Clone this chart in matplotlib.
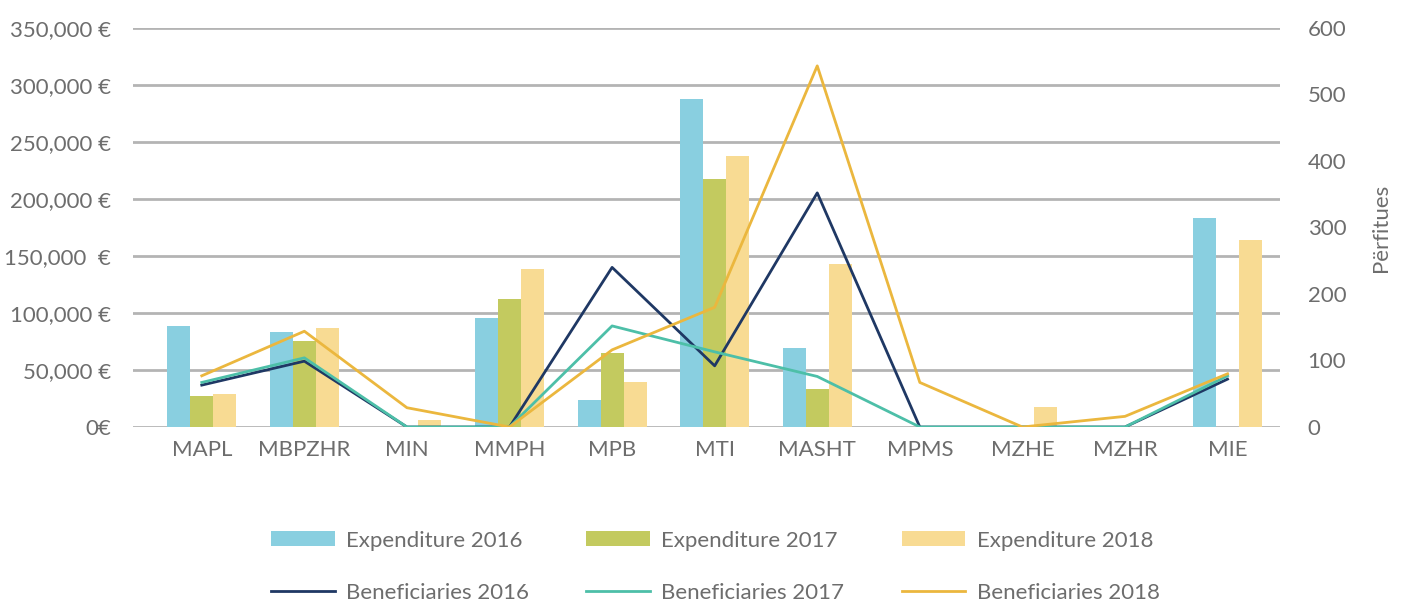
import numpy as np
import matplotlib.pyplot as plt

plt.rcParams['font.family'] = ['Lato', 'DejaVu Sans']

categories = ['MAPL', 'MBPZHR', 'MIN', 'MMPH', 'MPB', 'MTI', 'MASHT', 'MPMS', 'MZHE', 'MZHR', 'MIE']

exp_2016 = [88500, 83300, 0, 95600, 23700, 287700, 69300, 0, 0, 0, 183300]
exp_2017 = [27200, 75400, 0, 112300, 64900, 217500, 33300, 0, 0, 0, 0]
exp_2018 = [28900, 86800, 6100, 138600, 39500, 237700, 143000, 0, 17500, 0, 164000]

ben_2016 = [63, 99, 0, 0, 240, 92, 352, 0, 0, 0, 72]
ben_2017 = [67, 104, 0, 0, 152, 113, 76, 0, 0, 0, 77]
ben_2018 = [77, 144, 29, 0, 116, 180, 543, 67, 0, 16, 80]

left_ticks = [0, 50000, 100000, 150000, 200000, 250000, 300000, 350000]
left_labels = ['0€', '50,000 €', '100,000 €', '150,000  €', '200,000 €', '250,000 €', '300,000 €', '350,000 €']
right_ticks = [0, 100, 200, 300, 400, 500, 600]

c_blue = '#89cfe0'
c_green = '#c3ca5f'
c_sand = '#f8db93'
c_navy = '#1f3864'
c_teal = '#4dbfa8'
c_gold = '#ebb73e'
txt = '#6d6d6d'

fig = plt.figure(figsize=(14.08, 6.01), dpi=100)
ax = fig.add_axes([0.0945, 0.2895, 0.8145, 0.664])
x = np.arange(len(categories))
w = 0.224

b1 = ax.bar(x - w, exp_2016, w, color=c_blue, label='Expenditure 2016')
b2 = ax.bar(x, exp_2017, w, color=c_green, label='Expenditure 2017')
b3 = ax.bar(x + w, exp_2018, w, color=c_sand, label='Expenditure 2018')

ax.set_ylim(0, 350000)
ax.set_xlim(-0.67, 10.51)
ax.set_yticks(left_ticks)
ax.set_yticklabels(left_labels)
ax.set_xticks(x)
ax.set_xticklabels(categories)
ax.yaxis.grid(True, color='#b4b4b4', linewidth=2)
ax.set_axisbelow(True)
ax.tick_params(length=0, labelsize=16, labelcolor=txt)
ax.tick_params(axis='x', pad=9)
ax.tick_params(axis='y', pad=16)
for s in ax.spines.values():
    s.set_visible(False)

ax2 = ax.twinx()
l1, = ax2.plot(x, ben_2016, color=c_navy, lw=2, label='Beneficiaries 2016')
l2, = ax2.plot(x, ben_2017, color=c_teal, lw=2, label='Beneficiaries 2017')
l3, = ax2.plot(x, ben_2018, color=c_gold, lw=2, label='Beneficiaries 2018')
ax2.set_ylim(0, 600)
ax2.set_yticks(right_ticks)
ax2.tick_params(length=0, labelsize=16, labelcolor=txt, pad=20)
ax2.set_ylabel('Përfitues', color=txt, fontsize=16, labelpad=18)
for s in ax2.spines.values():
    s.set_visible(False)

handles = [b1, l1, b2, l2, b3, l3]
fig.legend(handles, [h.get_label() for h in handles], ncol=3, loc='lower center',
           bbox_to_anchor=(0.508, -0.027), frameon=False, fontsize=16,
           handlelength=2.86, handleheight=0.65, handletextpad=0.5,
           labelspacing=1.45, columnspacing=2.6, borderpad=0.15,
           labelcolor=txt)

fig.savefig('out.png', dpi=100)
